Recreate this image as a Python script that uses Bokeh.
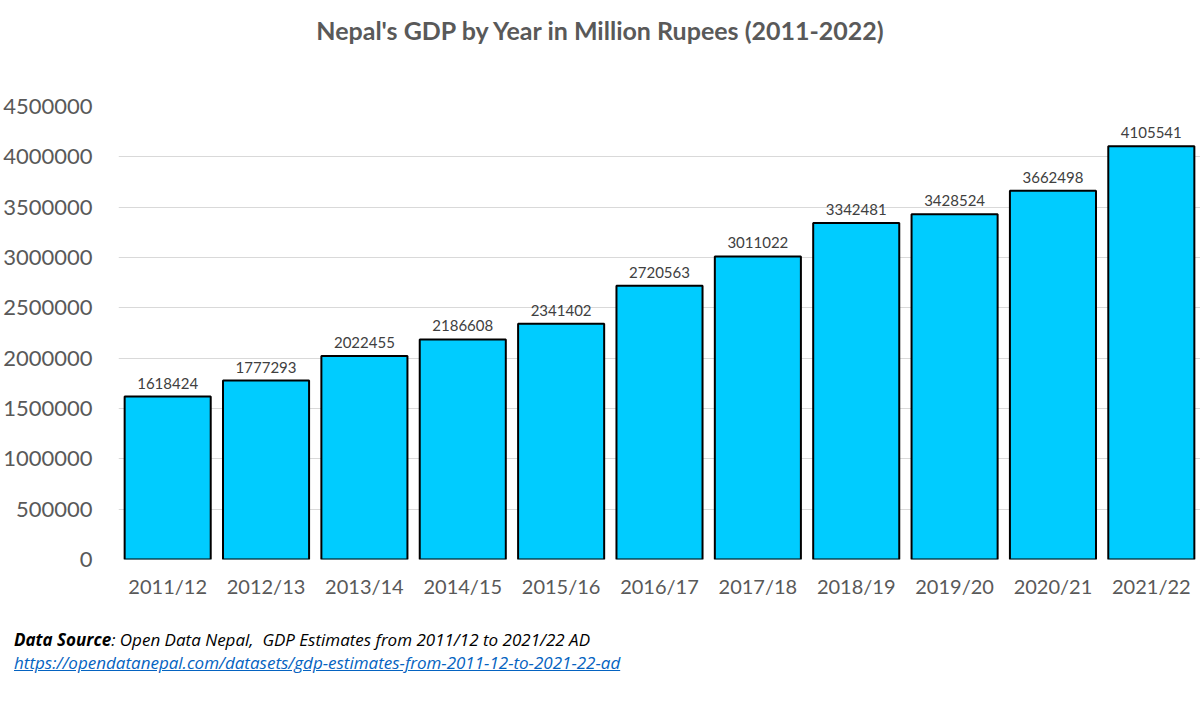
from bokeh.plotting import figure
from bokeh.models import ColumnDataSource, Range1d, FactorRange, LabelSet, Div, NumeralTickFormatter
from bokeh.core.properties import value
from bokeh.layouts import column
from bokeh.embed import file_html
from bokeh.resources import INLINE

# Nepal GDP (million rupees) by fiscal year
years = ["2011/12", "2012/13", "2013/14", "2014/15", "2015/16", "2016/17",
         "2017/18", "2018/19", "2019/20", "2020/21", "2021/22"]
gdp = [1618424, 1777293, 2022455, 2186608, 2341402, 2720563,
       3011022, 3342481, 3428524, 3662498, 4105541]
y_ticks = [0, 500000, 1000000, 1500000, 2000000, 2500000, 3000000, 3500000, 4000000, 4500000]

FONT = "Lato"
GREY = "#595959"

src = ColumnDataSource(dict(year=years, gdp=gdp, label=[str(v) for v in gdp]))

TITLE_H = 60
title = Div(text=(
    f"<div style=\"font-family:'{FONT}',sans-serif;font-weight:bold;font-size:25px;"
    f"color:{GREY};width:1200px;text-align:center;line-height:{TITLE_H}px;\">"
    "Nepal's GDP by Year in Million Rupees (2011-2022)</div>"),
    width=1200, height=TITLE_H, margin=(0, 0, 0, 0))

H = 552
p = figure(x_range=FactorRange(*years, range_padding=0), y_range=Range1d(0, 4500000),
           width=1200, height=H, output_backend="svg", toolbar_location=None,
           min_border_left=118, min_border_right=0, min_border_top=46, min_border_bottom=53)
p.outline_line_color = None
p.background_fill_color = "white"
p.border_fill_color = "white"

p.vbar(x="year", top="gdp", width=0.875, source=src,
       fill_color="#00CCFF", line_color="black", line_width=2)

p.add_layout(LabelSet(x="year", y="gdp", text="label", source=src,
                      text_align="center", text_baseline="bottom", y_offset=8,
                      text_font=value(FONT), text_font_size="15px", text_color="#404040"))

# axes
p.yaxis.ticker = y_ticks
p.yaxis.formatter = NumeralTickFormatter(format="0")
p.yaxis.axis_line_color = None
p.yaxis.major_tick_line_color = None
p.yaxis.minor_tick_line_color = None
p.yaxis.major_label_standoff = 20
p.yaxis.major_label_text_font = FONT
p.yaxis.major_label_text_font_size = "22px"
p.yaxis.major_label_text_color = GREY

p.xaxis.axis_line_color = None
p.xaxis.major_tick_line_color = None
p.xaxis.major_label_standoff = 8
p.xaxis.major_label_text_font = FONT
p.xaxis.major_label_text_font_size = "20px"
p.xaxis.major_label_text_color = GREY

p.xgrid.grid_line_color = None
p.ygrid.grid_line_color = "#D9D9D9"
p.ygrid.grid_line_width = 1

footer = Div(text=(
    "<div style=\"font-family:'Open Sans',sans-serif;font-style:italic;font-size:17px;"
    "line-height:23px;color:#000;padding:16px 0 0 14px;white-space:nowrap;\">"
    "<b>Data Source</b>: Open Data Nepal,&nbsp; GDP Estimates from 2011/12 to 2021/22 AD<br>"
    "<span style=\"color:#0563C1;text-decoration:underline;\">"
    "https://opendatanepal.com/datasets/gdp-estimates-from-2011-12-to-2021-22-ad</span></div>"),
    width=1200, height=109, margin=(0, 0, 0, 0))

layout = column(title, p, footer, spacing=0, margin=(0, 0, 0, 0))
open("out.html", "w").write(file_html(layout, INLINE))
